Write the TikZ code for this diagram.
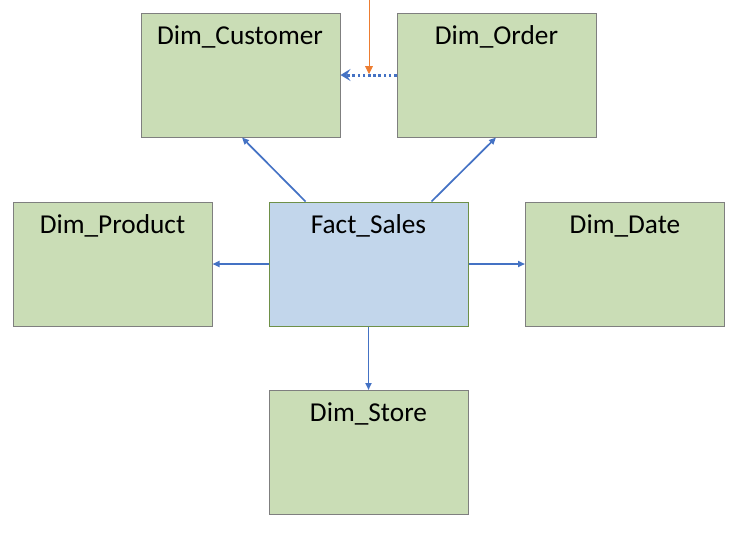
\documentclass[tikz,border=0pt]{standalone}
\usepackage{fontspec}
\setmainfont{Carlito}
\usetikzlibrary{arrows.meta}
\definecolor{dimfill}{HTML}{CADDB6}
\definecolor{dimdraw}{HTML}{7F7F7F}
\definecolor{factfill}{HTML}{C2D6EB}
\definecolor{factdraw}{HTML}{6E9048}
\definecolor{linkblue}{HTML}{4472C4}
\definecolor{linkorange}{HTML}{ED7D31}
\tikzset{
  dimbox/.style={draw=dimdraw, fill=dimfill, line width=1pt, minimum width=199pt, minimum height=124pt, inner sep=0pt},
  factbox/.style={draw=factdraw, fill=factfill, line width=1pt, minimum width=199pt, minimum height=124pt, inner sep=0pt},
  title/.style={font=\fontsize{27.3}{32}\selectfont, anchor=base, inner sep=0pt},
  link/.style={draw=linkblue, line width=1.7pt, -{Triangle[length=7pt,width=6pt]}},
  dotlink/.style={draw=linkblue, line width=3pt, dash pattern=on 2.6pt off 2.6pt, -{Stealth[length=10pt,width=12pt,inset=4pt]}},
  orangelink/.style={draw=linkorange, line width=0.9pt, -{Triangle[length=8pt,width=8pt]}}
}
\begin{document}
\begin{tikzpicture}[x=1pt,y=-1pt]
\useasboundingbox (0,0) rectangle (744,536);
\node[dimbox] (cust) at (240.5,75) {};
\node[dimbox] (order) at (496.5,75) {};
\node[dimbox] (prod) at (112.5,264) {};
\node[factbox] (fact) at (368.5,264) {};
\node[dimbox] (date) at (625,264) {};
\node[dimbox] (store) at (368.5,452.5) {};
\node[title] (custt) at (240,44) {Dim\_Customer};
\node[title] (ordert) at (496.5,44) {Dim\_Order};
\node[title] (prodt) at (112.5,233) {Dim\_Product};
\node[title] (factt) at (368.5,233) {Fact\_Sales};
\node[title] (datet) at (625,233) {Dim\_Date};
\node[title] (storet) at (368.5,421.5) {Dim\_Store};
\coordinate (custin) at (242,137.5);
\coordinate (orderin) at (496,137.5);
\draw[link] (fact.north west) ++(37,0) coordinate (fc) -- (custin);
\draw[link] (fact.north east) ++(-37,0) coordinate (fo) -- (orderin);
\draw[link] (fact.west) -- (prod.east);
\draw[link] (fact.east) -- (date.west);
\draw[link] (fact.south) -- (store.north);
\draw[dotlink] (order.west) -- (cust.east);
\coordinate (otop) at (369,0);
\coordinate (obot) at (369,74);
\draw[orangelink] (otop) -- (obot);
\end{tikzpicture}
\end{document}
